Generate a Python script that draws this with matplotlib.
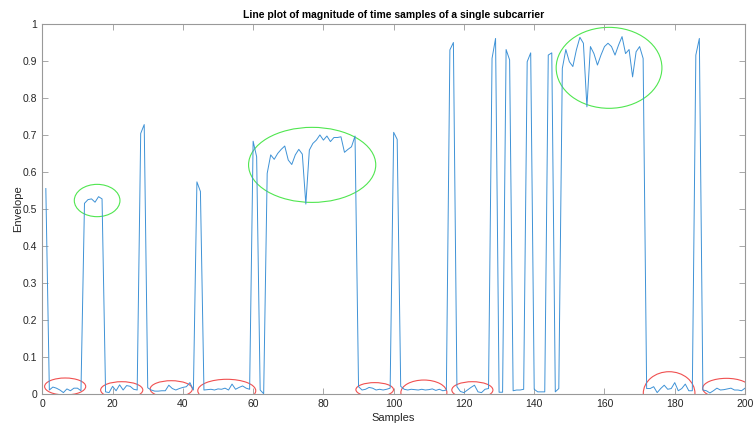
import matplotlib
matplotlib.use("Agg")
import matplotlib.pyplot as plt
from matplotlib.patches import Ellipse
import numpy as np

plt.rcParams['font.family'] = ['Liberation Sans', 'DejaVu Sans']

# envelope of samples 1..200
envelope = [
    0.555, 0.010, 0.018, 0.015, 0.010, 0.003, 0.013, 0.008, 0.015, 0.015,
    0.008, 0.515, 0.525, 0.527, 0.518, 0.533, 0.527, 0.005, 0.003, 0.020,
    0.008, 0.024, 0.010, 0.022, 0.020, 0.012, 0.010, 0.704, 0.728, 0.016,
    0.010, 0.007, 0.007, 0.008, 0.008, 0.023, 0.014, 0.010, 0.014, 0.017,
    0.019, 0.030, 0.010, 0.573, 0.547, 0.010, 0.011, 0.012, 0.010, 0.013,
    0.012, 0.015, 0.010, 0.026, 0.012, 0.017, 0.021, 0.015, 0.012, 0.683,
    0.641, 0.010, 0.000, 0.596, 0.646, 0.634, 0.650, 0.661, 0.670, 0.632,
    0.620, 0.646, 0.661, 0.648, 0.513, 0.659, 0.677, 0.686, 0.700, 0.686,
    0.697, 0.682, 0.693, 0.693, 0.695, 0.653, 0.661, 0.668, 0.697, 0.019,
    0.010, 0.012, 0.017, 0.015, 0.010, 0.012, 0.010, 0.012, 0.015, 0.707,
    0.688, 0.020, 0.012, 0.010, 0.012, 0.011, 0.010, 0.012, 0.010, 0.011,
    0.013, 0.009, 0.012, 0.008, 0.010, 0.930, 0.950, 0.019, 0.006, 0.003,
    0.010, 0.017, 0.023, 0.005, 0.003, 0.012, 0.014, 0.907, 0.961, 0.004,
    0.004, 0.931, 0.903, 0.008, 0.010, 0.010, 0.012, 0.898, 0.922, 0.012,
    0.005, 0.005, 0.005, 0.916, 0.922, 0.005, 0.014, 0.880, 0.931, 0.898,
    0.885, 0.930, 0.964, 0.948, 0.776, 0.939, 0.920, 0.889, 0.916, 0.939,
    0.948, 0.939, 0.916, 0.943, 0.966, 0.920, 0.931, 0.857, 0.925, 0.939,
    0.907, 0.014, 0.014, 0.019, 0.003, 0.014, 0.023, 0.012, 0.014, 0.030,
    0.008, 0.014, 0.026, 0.008, 0.008, 0.916, 0.961, 0.010, 0.008, 0.002,
    0.008, 0.015, 0.010, 0.011, 0.013, 0.015, 0.010, 0.010, 0.008, 0.015,
]
samples = np.arange(1, len(envelope) + 1)

# marked regions (centre x, centre y, width, height) in data units
red_x = [6.5, 22.6, 36.7, 52.5, 94.6, 108.6, 122.4, 178.4, 194.7]
red_y = [0.0195, 0.010, 0.0127, 0.008, 0.011, 0.003, 0.010, 0.001, 0.0146]
red_w = [11.7, 12.0, 12.0, 16.5, 10.7, 13.1, 11.7, 14.7, 13.5]
red_h = [0.046, 0.045, 0.045, 0.062, 0.038, 0.068, 0.045, 0.117, 0.054]

green_x = [15.6, 76.8, 161.3]
green_y = [0.5226, 0.619, 0.8815]
green_w = [13.0, 36.2, 30.1]
green_h = [0.0874, 0.203, 0.219]

fig = plt.figure(figsize=(7.53, 4.26), dpi=100)
ax = fig.add_axes([0.0562, 0.0758, 0.9332, 0.8678])

ax.plot(samples, envelope, color='#3E92D6', linewidth=0.7)

for x, y, w, h in zip(red_x, red_y, red_w, red_h):
    ax.add_patch(Ellipse((x, y), w, h, fill=False, edgecolor='#F05050', linewidth=0.8))
for x, y, w, h in zip(green_x, green_y, green_w, green_h):
    ax.add_patch(Ellipse((x, y), w, h, fill=False, edgecolor='#50E650', linewidth=0.8))

ax.set_xlim(0, 200)
ax.set_ylim(0, 1)
ax.set_xticks(np.arange(0, 201, 20))
ax.set_yticks(np.round(np.arange(0, 1.01, 0.1), 1))
ax.set_yticklabels(['0'] + ['%.1f' % v for v in np.arange(0.1, 0.95, 0.1)] + ['1'])

for s in ax.spines.values():
    s.set_color('#999999')
    s.set_linewidth(0.8)
ax.tick_params(direction='in', length=4, width=0.6, color='#999999',
               labelcolor='#262626', labelsize=7.5, top=True, right=True)

ax.set_title('Line plot of magnitude of time samples of a single subcarrier',
             fontsize=7.5, fontweight='bold', pad=4)
ax.set_xlabel('Samples', fontsize=8, color='#262626', labelpad=3)
ax.set_ylabel('Envelope', fontsize=8, color='#262626', labelpad=0)

fig.savefig('out.png', dpi=100)
